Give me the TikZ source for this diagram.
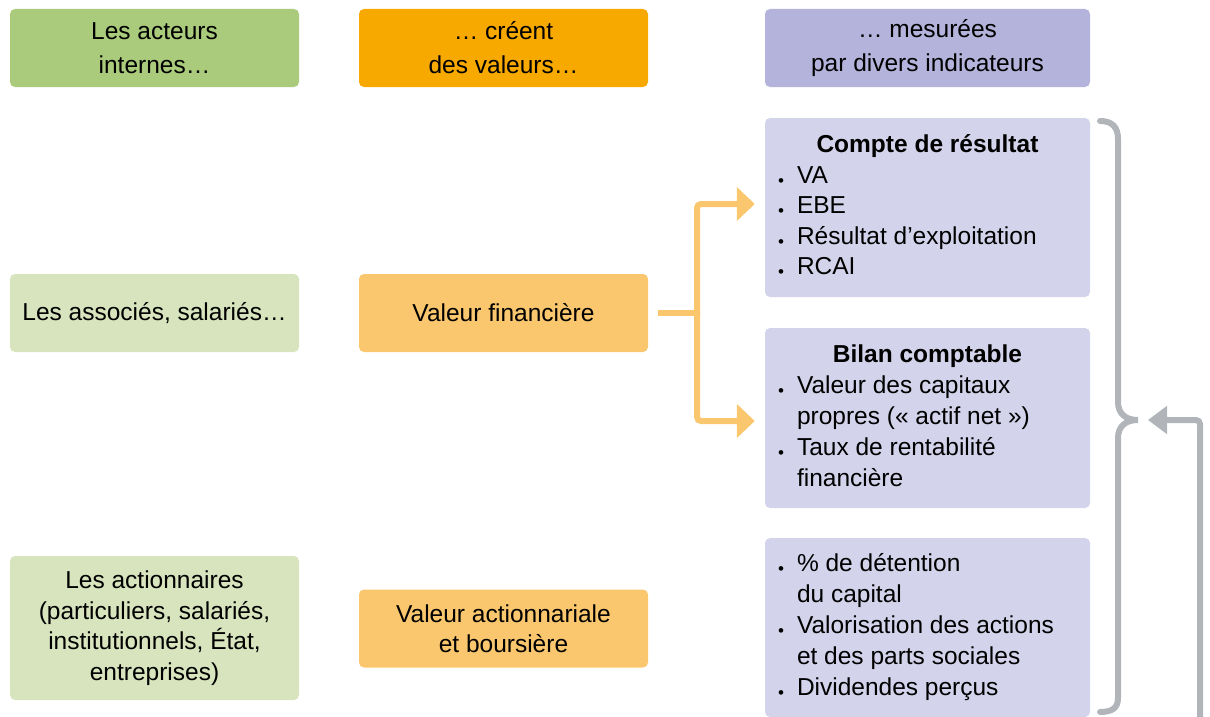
\documentclass[tikz,border=0pt]{standalone}
\usepackage{fontspec}
\setmainfont{Liberation Sans}
\usetikzlibrary{arrows.meta}
\definecolor{hgreen}{HTML}{A9CB7B}
\definecolor{lgreen}{HTML}{D7E4BD}
\definecolor{horange}{HTML}{F7A900}
\definecolor{lorange}{HTML}{FAC76E}
\definecolor{hpurple}{HTML}{B3B3DB}
\definecolor{lpurple}{HTML}{D3D3EB}
\definecolor{bgray}{HTML}{B1B5BA}
\newcommand{\bul}{{\fontsize{17}{17}\selectfont\raisebox{-3pt}{•}}}
\tikzset{
  box/.style={rounded corners=5pt, minimum width=289pt, minimum height=78pt, align=center, inner sep=0pt, text=black, font=\fontsize{24.5}{30}\selectfont},
  hbox/.style={box, font=\fontsize{24.5}{34}\selectfont},
  listbox/.style={box, minimum width=325pt, fill=lpurple},
  oarrow/.style={draw=lorange, line width=6pt, rounded corners=4pt, -{Triangle[length=18pt,width=33pt]}, shorten >=10pt},
  oline/.style={draw=lorange, line width=6pt},
  garrow/.style={draw=bgray, line width=6pt, rounded corners=4pt, -{Triangle[length=19pt,width=27pt]}, shorten >=10pt},
  gbrace/.style={draw=bgray, line width=6pt, line cap=round}
}
\begin{document}
\begin{tikzpicture}[x=1pt,y=-1pt]
\useasboundingbox (0,0) rectangle (1210,717);
% headers
\node[hbox, fill=hgreen] (h1) at (154.5,48) {Les acteurs\\internes…};
\node[hbox, fill=horange] (h2) at (503.5,48) {… créent\\des valeurs…};
\node[hbox, minimum width=325pt, fill=hpurple] (h3) at (927.5,48) {… mesurées\\par divers indicateurs};
% actors
\node[box, fill=lgreen] (a1) at (154.5,313) {Les associés, salariés…};
\node[box, fill=lgreen, minimum height=144pt, font=\fontsize{24.5}{30.5}\selectfont] (a2) at (154.5,628) {Les actionnaires\\(particuliers, salariés,\\institutionnels, État,\\entreprises)};
% values
\node[box, fill=lorange] (vf) at (503.5,313) {Valeur financière};
\node[box, fill=lorange] (va) at (503.5,628.5) {Valeur actionnariale\\et boursière};
% indicators
\node[listbox, minimum height=179pt] (cr) at (927.5,207.5) {\fontsize{24.5}{30.5}\selectfont\begin{tabular}{@{}p{19pt}@{}p{280pt}@{}}
\multicolumn{2}{@{}c@{}}{\textbf{Compte de résultat}}\\
\bul & VA\\
\bul & EBE\\
\bul & Résultat d’exploitation\\
\bul & RCAI
\end{tabular}};
\node[listbox, minimum height=180pt] (bc) at (927.5,418) {\fontsize{24.5}{31}\selectfont\begin{tabular}{@{}p{19pt}@{}p{280pt}@{}}
\multicolumn{2}{@{}c@{}}{\textbf{Bilan comptable}}\\
\bul & Valeur des capitaux\\
 & propres (« actif net »)\\
\bul & Taux de rentabilité\\
 & financière
\end{tabular}};
\node[listbox, minimum height=179pt] (dv) at (927.5,627.5) {\fontsize{24.5}{31}\selectfont\begin{tabular}{@{}p{19pt}@{}p{280pt}@{}}
\bul & \% de détention\\
 & du capital\\
\bul & Valorisation des actions\\
 & et des parts sociales\\
\bul & Dividendes perçus
\end{tabular}};
% orange connector
\coordinate (j) at (697,313);
\draw[oline] ([xshift=10pt]vf.east) -- (j);
\draw[oarrow] ([yshift=-3pt]j) |- ([yshift=3.5pt]cr.west);
\draw[oarrow] ([yshift=3pt]j) |- ([yshift=-3pt]bc.west);
% brace
\coordinate (bt) at (1138,420);
\draw[gbrace] (1100,121) .. controls (1112,121) and (1118,127) .. (1118,139)
  -- (1118,402) .. controls (1118,414) and (1126,420) .. (bt)
  .. controls (1126,420) and (1118,426) .. (1118,438)
  -- (1118,698) .. controls (1118,708) and (1112,712) .. (1100,712);
% gray return arrow
\coordinate (gs) at (1200,730);
\draw[garrow] (gs) |- (bt);
\end{tikzpicture}
\end{document}
